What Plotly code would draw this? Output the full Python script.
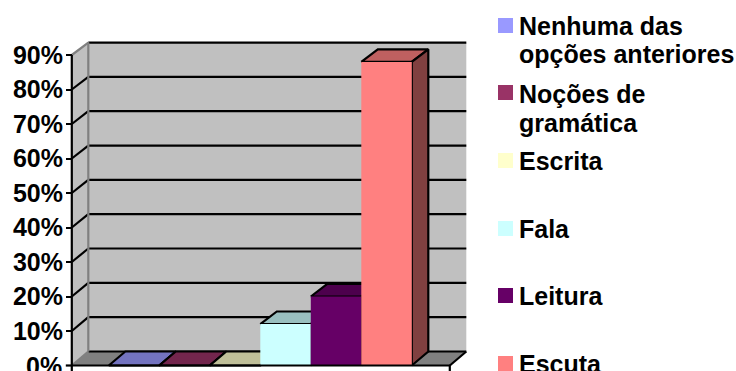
import plotly.graph_objects as go

# Survey results, in percent, one bar per answer
categories = ["Nenhuma das opções anteriores", "Noções de gramática", "Escrita", "Fala", "Leitura", "Escuta"]
values = [0, 0, 0, 12, 20, 88]
front_colors = ["#9999FF", "#993366", "#FFFFCC", "#CCFFFF", "#660066", "#FF8080"]
top_colors = ["#7373BF", "#73264D", "#BFBF99", "#99BFBF", "#4D004D", "#BF6060"]
side_colors = ["#4D4D80", "#4D1A33", "#808066", "#668080", "#330033", "#804040"]
y_ticks = [0, 10, 20, 30, 40, 50, 60, 70, 80, 90]
y_tick_labels = ["0%", "10%", "20%", "30%", "40%", "50%", "60%", "70%", "80%", "90%"]

WIDTH, HEIGHT = 736, 371
BAR_PX = 50.5
PCT_PX = 3.45
X0_PX = 108.8      # left edge of the first bar
ZERO_PX = 365.5    # pixel row of the 0% level
DX = 16.5 / BAR_PX     # oblique depth offset, in bar widths
DY = 14 / PCT_PX       # depth rise of the floor, in percent
BAR_DY = 12.6 / PCT_PX # depth rise of a bar top, in percent
BACK_SCALE = 0.995     # back wall is drawn very slightly smaller
LEFT = -37 / BAR_PX
RIGHT = 6 + 38 / BAR_PX
TOP = 90
LINE = 2.2
WALL, SHADE, INK = "#C0C0C0", "#808080", "#000000"

fig = go.Figure()


def back(t):
    return DY + t * BACK_SCALE


def poly(xs, ys, fill, line=None, width=LINE):
    fig.add_trace(go.Scatter(
        x=xs + xs[:1], y=ys + ys[:1], mode="lines", fill="toself", fillcolor=fill,
        line=dict(color=line or fill, width=width if line else 0),
        hoverinfo="skip", showlegend=False))


def seg(xs, ys, color=INK, width=LINE):
    fig.add_trace(go.Scatter(x=xs, y=ys, mode="lines", line=dict(color=color, width=width),
                             hoverinfo="skip", showlegend=False))


# Walls and floor of the 3D frame
poly([LEFT + DX, RIGHT + DX, RIGHT + DX, LEFT + DX], [back(0), back(0), back(TOP), back(TOP)], WALL)
poly([LEFT, LEFT + DX, LEFT + DX, LEFT], [0, back(0), back(TOP), TOP], WALL)
poly([LEFT, RIGHT, RIGHT + DX, LEFT + DX], [0, 0, back(0), back(0)], SHADE)

# Gridlines run along the back wall and down the side wall
for t in y_ticks:
    seg([LEFT + DX, RIGHT + DX], [back(t), back(t)])
    if 0 < t < TOP:
        seg([LEFT, LEFT + DX], [t, back(t)])
seg([RIGHT, RIGHT + DX], [0, back(0)])
seg([LEFT, LEFT + DX, LEFT + DX], [TOP, back(TOP), back(0)], SHADE)
seg([LEFT, LEFT + DX], [0, back(0)], SHADE)

# Bars: top and side faces first, the front face over them
for i, v in enumerate(values):
    rise = BAR_DY if v > 0 else DY
    poly([i, i + 1, i + 1 + DX, i + DX], [v, v, v + rise, v + rise], top_colors[i], INK)
    poly([i + 1, i + 1 + DX, i + 1 + DX, i + 1], [0, DY, v + rise, v], side_colors[i], INK)
    if v > 0:
        poly([i, i + 1, i + 1, i], [0, 0, v, v], front_colors[i])

# Front baseline, value axis and the tick at its foot
seg([LEFT, RIGHT, RIGHT], [0, 0, -6 / PCT_PX])
seg([LEFT, LEFT], [-6 / PCT_PX, TOP])
seg([LEFT - 6 / BAR_PX, LEFT], [0, 0])

# Legend entries, with wrapped labels split by line
legend_rows = [
    (0, ["Nenhuma das", "opções anteriores"], 25.5, [26, 54.5]),
    (1, ["Noções de", "gramática"], 92.5, [94, 123]),
    (2, ["Escrita"], 160.5, [161]),
    (3, ["Fala"], 228.5, [228.5]),
    (4, ["Leitura"], 295.5, [295.5]),
    (5, ["Escuta"], 363.5, [363.5]),
]
shapes, notes = [], []
for idx, lines, swatch_y, text_ys in legend_rows:
    shapes.append(dict(type="rect", xref="paper", yref="paper", line_width=0,
                       fillcolor=front_colors[idx],
                       x0=498 / WIDTH, x1=513 / WIDTH,
                       y0=1 - (swatch_y + 7.5) / HEIGHT, y1=1 - (swatch_y - 7.5) / HEIGHT))
    for text, ty in zip(lines, text_ys):
        notes.append(dict(text=f"<b>{text}</b>", xref="paper", yref="paper", showarrow=False,
                          x=519 / WIDTH, y=1 - ty / HEIGHT, xanchor="left", yanchor="middle",
                          xshift=-2, font=dict(family="Liberation Sans", size=25, color="#000000")))

# The axis drops a label that overflows the page, so the 0% label is placed by hand
notes.append(dict(text=f"<b>{y_tick_labels[0]}</b>", xref="paper", yref="paper", showarrow=False,
                  x=62 / WIDTH, y=1 - 365.5 / HEIGHT, xanchor="right", yanchor="middle", xshift=2,
                  font=dict(family="Liberation Sans", size=25, color="#000000")))

fig.update_layout(
    width=WIDTH, height=HEIGHT, margin=dict(l=0, r=0, t=0, b=0, pad=0, autoexpand=False),
    paper_bgcolor="white", plot_bgcolor="white", showlegend=False,
    shapes=shapes, annotations=notes,
    xaxis=dict(range=[-X0_PX / BAR_PX, (WIDTH - X0_PX) / BAR_PX], visible=False, fixedrange=True),
    yaxis=dict(
        range=[(ZERO_PX - HEIGHT) / PCT_PX, ZERO_PX / PCT_PX], anchor="free", position=72 / WIDTH,
        tickmode="array", tickvals=y_ticks[1:], ticktext=[f"<b>{s}</b>" for s in y_tick_labels[1:]],
        ticks="outside", ticklen=6, tickwidth=LINE, tickcolor=INK, showgrid=False, zeroline=False,
        showline=False, fixedrange=True, ticklabelstandoff=-2,
        tickfont=dict(family="Liberation Sans", size=25, color="#000000")),
)
fig.write_html("out.html", config=dict(displayModeBar=False))
